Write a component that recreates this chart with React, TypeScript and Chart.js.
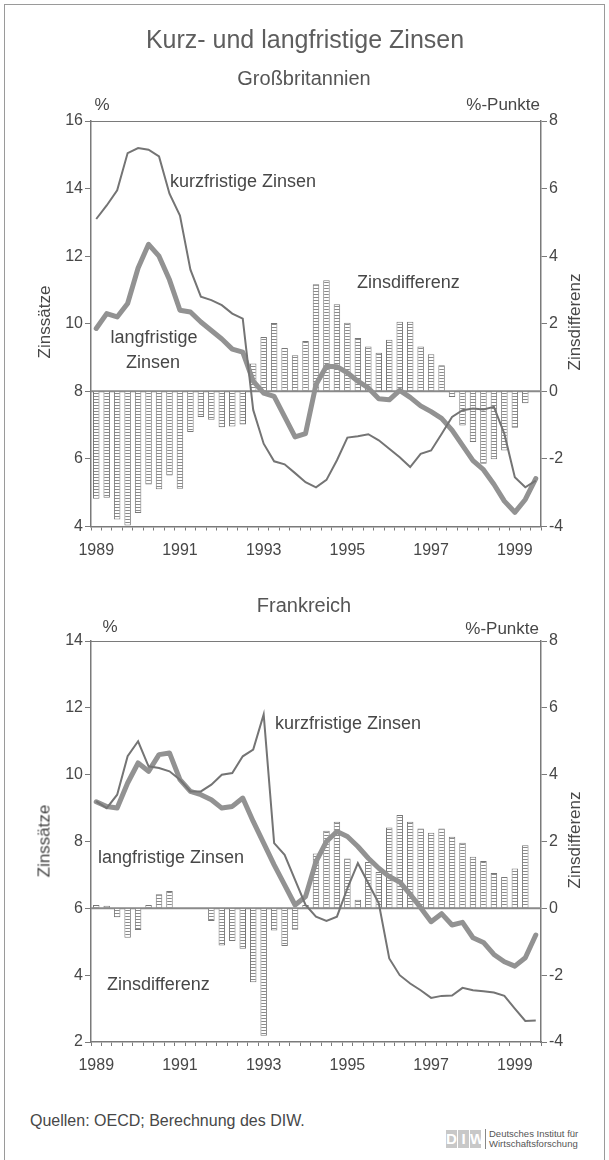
import React, { useEffect, useRef } from 'react';
import { Chart, registerables } from 'chart.js';

Chart.register(...registerables);

const FONT = '"Liberation Sans", Arial, Helvetica, sans-serif';
const TEXT = '#474747';
const AXIS = '#7a7a7a';

// ---------- categories (quarters 1989 Q1 .. 1999 Q3) ----------
const years = [1989, 1990, 1991, 1992, 1993, 1994, 1995, 1996, 1997, 1998, 1999];
const quarterNames = ['Q1', 'Q2', 'Q3', 'Q4'];
const categories = years.flatMap((y) => quarterNames.map((q) => `${y} ${q}`)).slice(0, 43);

// ---------- Großbritannien ----------
const gbShort = [13.1, 13.5, 13.95, 15.05, 15.2, 15.15, 14.95, 13.85, 13.2, 11.6, 10.8, 10.7, 10.55, 10.3, 10.15,
  7.45, 6.45, 5.93, 5.84, 5.58, 5.31, 5.16, 5.38, 5.96, 6.63, 6.67, 6.73, 6.55, 6.3, 6.05, 5.76, 6.15, 6.25,
  6.74, 7.24, 7.44, 7.49, 7.46, 7.54, 6.74, 5.46, 5.16, 5.36];
const gbLong = [9.86, 10.3, 10.2, 10.6, 11.65, 12.35, 12.0, 11.3, 10.4, 10.35, 10.05, 9.8, 9.55, 9.25, 9.16,
  8.3, 7.95, 7.85, 7.25, 6.65, 6.75, 8.2, 8.74, 8.73, 8.55, 8.3, 8.1, 7.78, 7.75, 8.03, 7.82, 7.57, 7.4,
  7.2, 6.85, 6.4, 5.95, 5.68, 5.25, 4.75, 4.42, 4.8, 5.42];
const gbDiff = [-3.18, -3.15, -3.79, -3.97, -3.6, -2.76, -2.9, -2.49, -2.88, -1.2, -0.76, -0.84, -1.06, -1.04, -0.98,
  0.82, 1.61, 2.02, 1.28, 1.07, 1.49, 3.17, 3.29, 2.58, 2.03, 1.58, 1.33, 1.14, 1.53, 2.06, 2.06, 1.33, 1.1,
  0.77, -0.17, -1.01, -1.5, -2.14, -2.01, -1.75, -1.08, -0.35, null];

// ---------- Frankreich ----------
const frShort = [9.2, 9.0, 9.4, 10.55, 11.0, 10.25, 10.2, 10.1, 9.85, 9.5, 9.5, 9.7, 10.0, 10.05, 10.55, 10.75,
  11.8, 7.95, 7.6, 6.85, 6.1, 5.75, 5.62, 5.75, 6.6, 7.35, 6.75, 6.15, 4.5, 4.0, 3.75, 3.55, 3.32, 3.38, 3.39,
  3.62, 3.55, 3.52, 3.48, 3.38, 3.0, 2.63, 2.64];
const frLong = [9.19, 9.05, 9.0, 9.75, 10.35, 10.1, 10.6, 10.65, 9.85, 9.5, 9.4, 9.25, 9.0, 9.05, 9.3, 8.6,
  7.95, 7.3, 6.7, 6.1, 6.35, 7.4, 8.0, 8.3, 8.15, 7.85, 7.5, 7.2, 6.95, 6.79, 6.42, 6.02, 5.6, 5.84, 5.5,
  5.58, 5.12, 4.98, 4.62, 4.4, 4.27, 4.52, 5.2];
const frDiff = [0.1, 0.08, -0.27, -0.88, -0.65, 0.1, 0.42, 0.52, 0, 0, 0, -0.38, -1.11, -0.98, -1.21, -2.21,
  -3.81, -0.66, -1.13, -0.64, 0.1, 1.64, 2.32, 2.59, 1.49, 0.26, 1.39, 1.09, 2.42, 2.79, 2.59, 2.39, 2.26,
  2.39, 2.14, 1.96, 1.54, 1.42, 1.06, 0.94, 1.19, 1.89, null];

// ---------- axis ranges ----------
const gbLeftRange = [4, 16];
const frLeftRange = [2, 14];
const rightRange = [-4, 8];

const PAGE_W = 609;
const PLOT_LEFT = 91;
const PLOT_RIGHT = 541;

type Spec = {
  short: number[];
  long: number[];
  diff: (number | null)[];
  left: number[];
  canvasTop: number;
  canvasHeight: number;
  plotTop: number;
  plotBottom: number;
};

const gbSpec: Spec = { short: gbShort, long: gbLong, diff: gbDiff, left: gbLeftRange, canvasTop: 0, canvasHeight: 575, plotTop: 121, plotBottom: 526.5 };
const frSpec: Spec = { short: frShort, long: frLong, diff: frDiff, left: frLeftRange, canvasTop: 580, canvasHeight: 520, plotTop: 641, plotBottom: 1042 };

function makePattern(ctx: CanvasRenderingContext2D) {
  const c = document.createElement('canvas');
  c.width = 4;
  c.height = 3;
  const g = c.getContext('2d')!;
  g.fillStyle = '#ffffff';
  g.fillRect(0, 0, 4, 3);
  g.fillStyle = '#8a8a8a';
  g.fillRect(0, 0, 4, 1);
  return ctx.createPattern(c, 'repeat');
}

const guidesPlugin = {
  id: 'guides',
  beforeDatasetsDraw(chart: any) {
    const { ctx, chartArea } = chart;
    const y0 = chart.scales.y2.getPixelForValue(0);
    ctx.save();
    ctx.strokeStyle = '#8a8a8a';
    ctx.lineWidth = 2;
    ctx.beginPath();
    ctx.moveTo(chartArea.left, y0);
    ctx.lineTo(chartArea.right, y0);
    ctx.stroke();
    ctx.lineWidth = 1;
    ctx.strokeStyle = AXIS;
    const t = Math.round(chartArea.top) + 0.5;
    ctx.beginPath();
    ctx.moveTo(chartArea.left, t);
    ctx.lineTo(chartArea.right, t);
    ctx.stroke();
    ctx.restore();
  },
};

function RateChart({ spec }: { spec: Spec }) {
  const ref = useRef<HTMLCanvasElement>(null);
  useEffect(() => {
    const canvas = ref.current;
    if (!canvas) return;
    const ctx = canvas.getContext('2d')!;
    const pattern = makePattern(ctx);
    const tickFont = { family: FONT, size: 16 };
    const chart = new Chart(ctx, {
      type: 'bar',
      data: {
        labels: categories,
        datasets: [
          {
            type: 'line',
            label: 'kurzfristige Zinsen',
            data: spec.short,
            yAxisID: 'y',
            borderColor: '#747474',
            borderWidth: 2,
            pointRadius: 0,
            tension: 0,
            order: 1,
          } as any,
          {
            type: 'line',
            label: 'langfristige Zinsen',
            data: spec.long,
            yAxisID: 'y',
            borderColor: '#929292',
            borderWidth: 5,
            pointRadius: 0,
            tension: 0,
            borderJoinStyle: 'round',
            borderCapStyle: 'round',
            order: 2,
          } as any,
          {
            type: 'bar',
            label: 'Zinsdifferenz',
            data: spec.diff,
            yAxisID: 'y2',
            backgroundColor: pattern,
            borderColor: '#777777',
            borderWidth: 1,
            barPercentage: 0.62,
            categoryPercentage: 1,
            order: 3,
          } as any,
        ],
      },
      options: {
        responsive: false,
        animation: false,
        devicePixelRatio: 1,
        events: [],
        layout: { padding: { top: spec.plotTop - spec.canvasTop, left: 0, right: 0, bottom: 0 } },
        plugins: { legend: { display: false }, tooltip: { enabled: false }, title: { display: false } },
        scales: {
          x: {
            type: 'category',
            offset: true,
            grid: { offset: true, drawOnChartArea: false, drawTicks: true, tickLength: 4, color: AXIS, lineWidth: 1 },
            border: { display: true, color: AXIS, width: 1.5 },
            ticks: {
              autoSkip: false,
              maxRotation: 0,
              minRotation: 0,
              padding: 10,
              color: TEXT,
              font: tickFont,
              callback: (_v: any, i: number) => (i % 8 === 0 ? String(years[i / 4]) : ''),
            },
            afterFit: (s: any) => {
              s.height = spec.canvasTop + spec.canvasHeight - spec.plotBottom;
            },
          },
          y: {
            position: 'left',
            min: spec.left[0],
            max: spec.left[1],
            ticks: { stepSize: 2, color: TEXT, font: tickFont, padding: 2 },
            grid: { drawOnChartArea: false, drawTicks: true, tickLength: 6, color: AXIS },
            border: { display: true, color: AXIS, width: 1.5 },
            afterFit: (s: any) => {
              s.width = PLOT_LEFT;
            },
          },
          y2: {
            position: 'right',
            min: rightRange[0],
            max: rightRange[1],
            ticks: { stepSize: 2, color: TEXT, font: tickFont, padding: 2 },
            grid: { drawOnChartArea: false, drawTicks: true, tickLength: 6, color: AXIS },
            border: { display: true, color: AXIS, width: 1.5 },
            afterFit: (s: any) => {
              s.width = PAGE_W - PLOT_RIGHT;
            },
          },
        },
      },
      plugins: [guidesPlugin],
    } as any);
    return () => chart.destroy();
  }, [spec]);
  return (
    <canvas
      ref={ref}
      width={PAGE_W}
      height={spec.canvasHeight}
      style={{ position: 'absolute', left: 0, top: spec.canvasTop, width: PAGE_W, height: spec.canvasHeight }}
    />
  );
}

type TxtProps = {
  x: number;
  y: number;
  size: number;
  anchor?: 'left' | 'center' | 'right';
  rotate?: boolean;
  color?: string;
  children: React.ReactNode;
};

function Txt({ x, y, size, anchor = 'center', rotate = false, color = TEXT, children }: TxtProps) {
  const tx = anchor === 'left' ? '0' : anchor === 'right' ? '-100%' : '-50%';
  return (
    <div
      style={{
        position: 'absolute',
        left: x,
        top: y,
        fontSize: size,
        lineHeight: 1,
        color,
        whiteSpace: 'nowrap',
        fontFamily: FONT,
        transform: `translate(${tx}, -50%)${rotate ? ' rotate(-90deg)' : ''}`,
        transformOrigin: rotate ? '50% 50%' : undefined,
      }}
    >
      {children}
    </div>
  );
}

export default function App() {
  return (
    <div style={{ position: 'absolute', left: 0, top: 0, width: 609, height: 1160, background: '#ffffff', overflow: 'hidden', fontFamily: FONT }}>
      <div style={{ position: 'absolute', left: 4, top: 4, width: 599, height: 1200, border: '1px solid #9a9a9a' }} />
      <RateChart spec={gbSpec} />
      <RateChart spec={frSpec} />

      <Txt x={305} y={39} size={25} color="#5e5e5e">Kurz- und langfristige Zinsen</Txt>
      <Txt x={304} y={78} size={20} color="#555">Großbritannien</Txt>
      <Txt x={102} y={104} size={17}>%</Txt>
      <Txt x={540} y={104} size={17} anchor="right">%-Punkte</Txt>
      <Txt x={44} y={322} size={17} rotate>Zinssätze</Txt>
      <Txt x={574} y={322} size={17} rotate>Zinsdifferenz</Txt>
      <Txt x={170} y={181} size={18} anchor="left">kurzfristige Zinsen</Txt>
      <Txt x={357} y={282} size={18} anchor="left">Zinsdifferenz</Txt>
      <Txt x={154} y={337} size={18}>langfristige</Txt>
      <Txt x={153} y={362} size={18}>Zinsen</Txt>

      <Txt x={304} y={605} size={20} color="#555">Frankreich</Txt>
      <Txt x={110} y={626} size={17}>%</Txt>
      <Txt x={539} y={628} size={17} anchor="right">%-Punkte</Txt>
      <Txt x={44} y={841} size={17} rotate>Zinssätze</Txt>
      <Txt x={574} y={840} size={17} rotate>Zinsdifferenz</Txt>
      <Txt x={275} y={723} size={18} anchor="left">kurzfristige Zinsen</Txt>
      <Txt x={98} y={857} size={18} anchor="left">langfristige Zinsen</Txt>
      <Txt x={107} y={984} size={18} anchor="left">Zinsdifferenz</Txt>

      <Txt x={30} y={1121} size={16} anchor="left">Quellen: OECD; Berechnung des DIW.</Txt>
      <div style={{ position: 'absolute', left: 446, top: 1129, display: 'flex', alignItems: 'center' }}>
        <div style={{ display: 'flex', gap: 1 }}>
          {['D', 'I', 'W'].map((ch) => (
            <span
              key={ch}
              style={{ display: 'inline-block', width: 11, height: 18, background: '#c8c8c8', color: '#ffffff', fontSize: 15, fontWeight: 'bold', lineHeight: '18px', textAlign: 'center', fontFamily: FONT }}
            >
              {ch}
            </span>
          ))}
        </div>
        <div style={{ marginLeft: 4, borderLeft: '1px solid #888', paddingLeft: 3, fontSize: 9.5, lineHeight: '10px', color: '#555', fontFamily: FONT }}>
          <div>Deutsches Institut für</div>
          <div>Wirtschaftsforschung</div>
        </div>
      </div>
    </div>
  );
}
